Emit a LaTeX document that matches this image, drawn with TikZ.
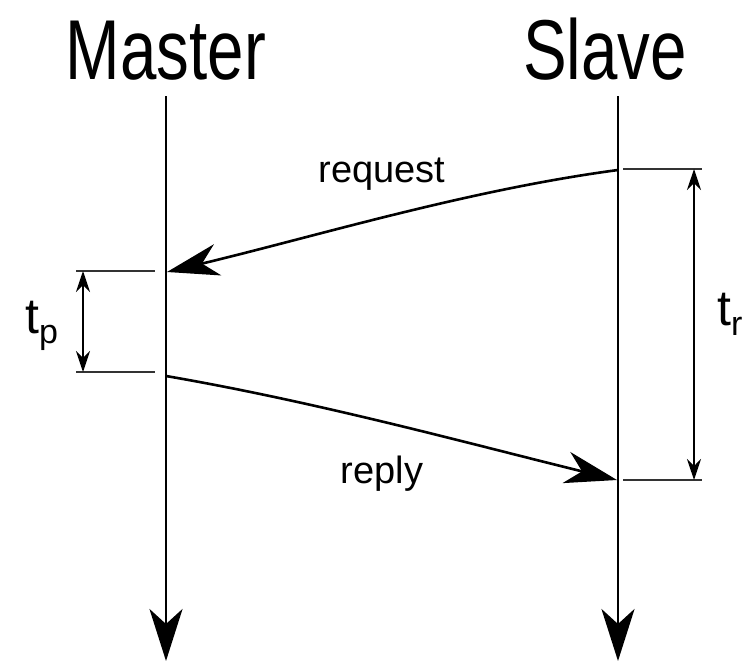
\documentclass[tikz,border=0pt]{standalone}
\usepackage{fontspec}
\setmainfont{Liberation Sans}
\usetikzlibrary{arrows.meta}
\tikzset{
  lifeline/.style={line width=2.8pt, -{Stealth[length=52pt,width=33pt,inset=15pt]}},
  message/.style={line width=2.6pt, -{Stealth[length=52pt,width=32pt,inset=16pt]}},
  guide/.style={line width=1.4pt, draw=black!80},
  span/.style={line width=1.4pt, {Stealth[length=21pt,width=14pt,inset=7pt]}-{Stealth[length=21pt,width=14pt,inset=7pt]}},
  title/.style={font=\fontsize{85}{90}\selectfont, xscale=0.77, anchor=base, inner sep=0pt},
  msglabel/.style={font=\fontsize{38}{42}\selectfont, anchor=base, inner sep=0pt},
  timelabel/.style={font=\fontsize{50}{54}\selectfont, anchor=base west, inner sep=0pt}
}
\newcommand{\tsub}[1]{t\raisebox{-10pt}{\fontsize{34}{36}\selectfont #1}}
\begin{document}
\begin{tikzpicture}[x=1pt, y=-1pt]
\useasboundingbox (0,0) rectangle (747,661);
\node[title] (master) at (166,79) {Master};
\node[title] (slave) at (605,79) {Slave};
\coordinate (mtop) at (166,96);
\coordinate (mbot) at (166,661);
\coordinate (stop) at (618,96);
\coordinate (sbot) at (618,661);
\coordinate (sreq) at (618,170);
\coordinate (mreq) at (167,272);
\coordinate (mrep) at (166,376);
\coordinate (srep) at (617,480);
% lifelines
\draw[lifeline] (mtop) -- (mbot);
\draw[lifeline] (stop) -- (sbot);
% messages
\draw[message] (sreq) .. controls (468,190) and (317,236) .. (mreq);
\draw[message] (mrep) .. controls (317,402) and (467,443) .. (srep);
\node[msglabel] (request) at (382,182) {request};
\node[msglabel] (reply) at (382,483) {reply};
% processing time
\coordinate (p1a) at (76,271);
\coordinate (p1b) at (155,271);
\coordinate (p2a) at (76,372);
\coordinate (p2b) at (155,372);
\draw[guide] (p1a) -- (p1b);
\draw[guide] (p2a) -- (p2b);
\draw[span] (83,271) coordinate (pt) -- (83,372) coordinate (pb);
\node[timelabel] (tp) at (25,333) {\tsub{p}};
% response time
\coordinate (r1a) at (623,169);
\coordinate (r1b) at (702,169);
\coordinate (r2a) at (623,480);
\coordinate (r2b) at (702,480);
\draw[guide] (r1a) -- (r1b);
\draw[guide] (r2a) -- (r2b);
\draw[span] (694,169) coordinate (rt) -- (694,480) coordinate (rb);
\node[timelabel] (tr) at (717,325) {\tsub{r}};
\end{tikzpicture}
\end{document}
